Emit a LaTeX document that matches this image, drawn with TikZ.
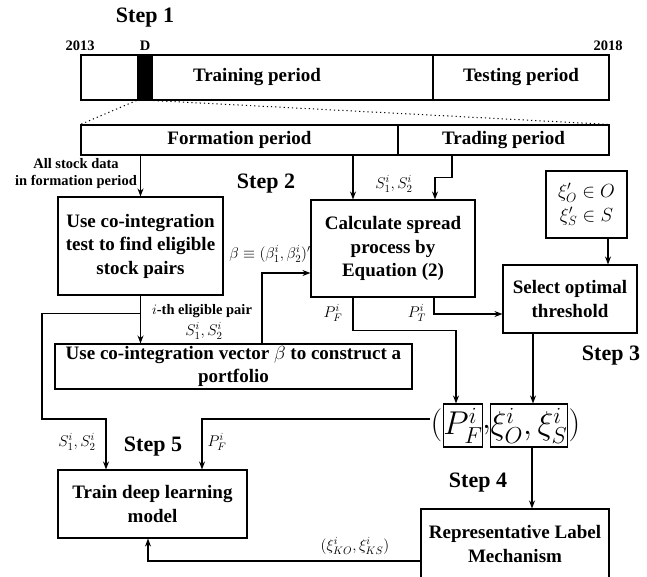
\RequirePackage{fix-cm}
\documentclass[tikz,border=0pt]{standalone}
\usepackage{fontspec}
\setmainfont{Liberation Serif}
\usetikzlibrary{arrows.meta}

\begin{document}
\begin{tikzpicture}[
  x=1pt,y=-1pt,
  >={Stealth[length=8pt,width=6pt]},
  line width=1.1pt,
  box/.style={draw,inner sep=0pt,align=center,font=\fontsize{19}{23.5}\selectfont\bfseries},
  bar/.style={draw,inner sep=0pt,font=\fontsize{19}{23}\selectfont\bfseries},
  steplbl/.style={font=\fontsize{22}{24}\selectfont\bfseries},
  note/.style={align=center,inner sep=1pt,font=\fontsize{14.5}{17}\selectfont\bfseries},
  var/.style={inner sep=1pt,font=\fontsize{15.5}{17}\selectfont},
  tup/.style={inner sep=0pt,font=\fontsize{33}{33}\selectfont},
  arc/.style={->}
]
\useasboundingbox (0,0) rectangle (647,576);

% time line
\node[steplbl] (s1) at (145,18) {Step 1};
\node[note] (y0) at (80,46) {2013};
\node[note] (dl) at (145,46) {D};
\node[note] (y1) at (608,46) {2018};
\node[bar,minimum width=352pt,minimum height=45pt] (train) at (257,77.5) {Training period};
\node[bar,minimum width=176pt,minimum height=45pt] (test) at (521,77.5) {Testing period};
\node[fill,inner sep=0pt,minimum width=16pt,minimum height=45pt] (dblk) at (145,77.5) {};
\node[bar,minimum width=317pt,minimum height=30pt] (form) at (239.5,140) {Formation period};
\node[bar,minimum width=211pt,minimum height=30pt] (trade) at (503.5,140) {Trading period};
\draw[line width=1pt,dash pattern=on 1.2pt off 3pt] (dblk.south west) -- (form.north west);
\draw[line width=1pt,dash pattern=on 1.2pt off 3pt] (dblk.south east) -- (trade.north east);

% boxes
\node[box,minimum width=165pt,minimum height=98pt] (coint) at (140.5,246) {Use co-integration\\test to find eligible\\stock pairs};
\node[box,minimum width=164pt,minimum height=97pt] (spread) at (393,248.5) {Calculate spread\\process by\\Equation (2)};
\node[box,font=\fontsize{19}{23.5}\selectfont,minimum width=81pt,minimum height=67pt] (thr) at (586.5,204.5) {$\xi'_O\in O$\\$\xi'_S\in S$};
\node[box,minimum width=134pt,minimum height=68pt] (sel) at (570,299) {Select optimal\\threshold};
\node[box,minimum width=357pt,minimum height=45pt] (port) at (233.5,366.5) {Use co-integration vector $\beta$ to construct a\\portfolio};
\node[box,tup,minimum width=38pt,minimum height=43pt] (pf) at (463,425.5) {$P_F^i$};
\node[box,tup,minimum width=76pt,minimum height=43pt] (xis) at (529,425.5) {$\xi_O^i,\xi_S^i$};
\node[tup,anchor=east] (lp) at (pf.west) {$($};
\node[tup,anchor=west] (rp) at (xis.east) {$)$};
\node[tup] (cm) at (486.5,430) {$,$};
\node[box,minimum width=189pt,minimum height=68pt] (deep) at (152.5,504) {Train deep learning\\model};
\node[box,minimum width=188pt,minimum height=70pt] (rlm) at (515,544) {Representative Label\\Mechanism};

% labels
\node[note] (alld) at (76,174) {All stock data\\in formation period};
\node[steplbl] (s2) at (266,184) {Step 2};
\node[var] (sin) at (394,184) {$S_1^i,S_2^i$};
\node[var] (beq) at (270,254) {$\beta\equiv(\beta_1^i,\beta_2^i)'$};
\node[var] (pfl) at (333,313) {$P_F^i$};
\node[var] (ptl) at (417,313) {$P_T^i$};
\node[note] (ith) at (202,311) {$i$-th eligible pair};
\node[var] (sp) at (204,331) {$S_1^i,S_2^i$};
\node[steplbl] (s3) at (611,356) {Step 3};
\node[var] (sl) at (77,442) {$S_1^i,S_2^i$};
\node[steplbl] (s5) at (153,447) {Step 5};
\node[var] (pfd) at (217,442) {$P_F^i$};
\node[steplbl] (s4) at (478,483) {Step 4};
\node[var] (kl) at (355,546) {$(\xi_{KO}^i,\xi_{KS}^i)$};

% flow
\draw[arc] (form.south -| coint.north) -- (coint.north);
\draw[arc] ([xshift=-40pt]spread.north |- form.south) -- ([xshift=-40pt]spread.north);
\draw[arc] ([xshift=-51.5pt]trade.south) -- ++(0,22) -| ([xshift=42pt]spread.north);
\draw[arc] (coint.south) -- (coint.south |- port.north);
\coordinate (pair) at ([yshift=-18pt]coint.south);
\draw[arc] (pair) -| (42,419) -| ([xshift=-46.5pt]deep.north);
\draw[arc] ([xshift=28.5pt]port.north) |- ([yshift=-24.5pt]spread.west);
\draw[arc] ([xshift=-40pt]spread.south) -- ++(0,33) -| ([xshift=-7pt]pf.north);
\draw[arc] ([xshift=41pt]spread.south) |- ([yshift=-15pt]sel.west);
\draw[arc] ([xshift=21.5pt]thr.south) -- ([xshift=21.5pt]thr.south |- sel.north);
\draw[arc] ([xshift=-37pt]sel.south) -- ([xshift=-37pt]sel.south |- xis.north);
\draw[arc] ([xshift=3pt]xis.south) -- ([xshift=3pt]xis.south |- rlm.north);
\draw[arc] ([yshift=6.5pt]lp.west) -| ([xshift=49.5pt]deep.north);
\draw[arc] ([yshift=-17pt]rlm.west) -| ([xshift=-4.5pt]deep.south);
\end{tikzpicture}
\end{document}
